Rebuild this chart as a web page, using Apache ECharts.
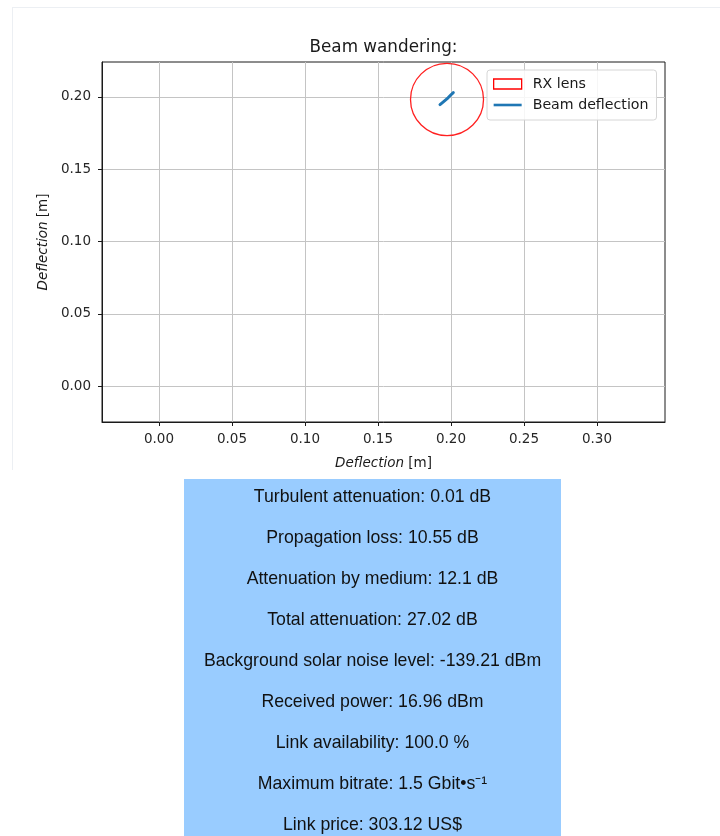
<!DOCTYPE html>
<html>
<head>
<meta charset="utf-8">
<script src="https://cdn.jsdelivr.net/npm/echarts@6/dist/echarts.min.js"></script>
<style>
html,body{margin:0;padding:0;background:#fff;}
#chart{width:720px;height:836px;}
</style>
</head>
<body>
<div id="chart"></div>
<script>
// ---- data ----
const titleText = 'Beam wandering:';
const xTicks = [0.00, 0.05, 0.10, 0.15, 0.20, 0.25, 0.30];
const yTicks = [0.00, 0.05, 0.10, 0.15, 0.20];
const xRange = [-0.039, 0.3466];
const yRange = [-0.0249, 0.2242];
const lensCenterX = [0.1973];
const lensCenterY = [0.1983];
const lensRadius = [0.025];
const beamX = [0.1925, 0.1938, 0.1950, 0.1961, 0.1974, 0.1983, 0.1995, 0.2004, 0.2016];
const beamY = [0.1947, 0.1958, 0.1968, 0.1976, 0.1988, 0.1996, 0.2010, 0.2019, 0.2030];
const infoLines = [
  'Turbulent attenuation: 0.01 dB',
  'Propagation loss: 10.55 dB',
  'Attenuation by medium: 12.1 dB',
  'Total attenuation: 27.02 dB',
  'Background solar noise level: -139.21 dBm',
  'Received power: 16.96 dBm',
  'Link availability: 100.0 %',
  'Maximum bitrate: 1.5 Gbit\u2022s\u207B\u00B9',
  'Link price: 303.12 US$'
];

// ---- layout ----
const plot = {left: 102, top: 62, right: 665, bottom: 422};
const box = {x: 184, y: 479, w: 377, h: 370};
const lineStart = 497, lineStep = 41;

const chart = echarts.init(document.getElementById('chart'), null, {renderer: 'canvas'});
const tickFont = 'DejaVu Sans';

const lensData = lensCenterX.map((x, i) => [x, lensCenterY[i], lensRadius[i]]);
const beamData = beamX.map((x, i) => [x, beamY[i]]);

const graphics = [
  {type: 'line', shape: {x1: 12, y1: 7.5, x2: 720, y2: 7.5}, style: {stroke: '#eceff3', lineWidth: 1}, silent: true},
  {type: 'line', shape: {x1: 12.5, y1: 7, x2: 12.5, y2: 470}, style: {stroke: '#eceff3', lineWidth: 1}, silent: true},
  {type: 'rect', shape: {x: box.x, y: box.y, width: box.w, height: box.h}, style: {fill: '#99ccff'}, silent: true}
];
infoLines.forEach((t, i) => {
  graphics.push({
    type: 'text',
    x: box.x + box.w / 2,
    y: lineStart + i * lineStep,
    style: {text: t, fill: '#111', font: '17.7px "Liberation Sans", Arial, sans-serif', align: 'center', verticalAlign: 'middle'},
    silent: true
  });
});

const option = {
  backgroundColor: '#fff',
  animation: false,
  title: {
    text: titleText,
    left: (plot.left + plot.right) / 2,
    textAlign: 'center',
    top: 39,
    padding: 0,
    textStyle: {fontFamily: tickFont, fontSize: 16.8, fontWeight: 'normal', color: '#1a1a1a'}
  },
  grid: {
    left: plot.left, top: plot.top,
    width: plot.right - plot.left, height: plot.bottom - plot.top,
    show: true, borderColor: '#1a1a1a', borderWidth: 1, backgroundColor: 'transparent'
  },
  legend: {
    orient: 'vertical',
    left: 487, top: 70,
    padding: [7, 8, 8, 6],
    itemWidth: 28, itemHeight: 10, itemGap: 7,
    backgroundColor: 'rgba(255,255,255,0.85)',
    borderColor: '#d6d6d6', borderWidth: 1, borderRadius: 3,
    textStyle: {fontFamily: tickFont, fontSize: 14.2, color: '#1a1a1a', padding: [0, 0, 0, 6]},
    data: [
      {name: 'RX lens', icon: 'rect', itemStyle: {color: 'rgba(0,0,0,0)', borderColor: '#ff0000', borderWidth: 1.3}},
      {name: 'Beam deflection', icon: 'path://M0,0 L28,0 L28,2.6 L0,2.6 Z', symbolKeepAspect: true, itemStyle: {color: '#1f77b4', borderWidth: 0}}
    ]
  },
  xAxis: {
    type: 'value', min: xRange[0], max: xRange[1],
    name: '{i|Deflection} [m]', nameLocation: 'middle', nameGap: 34,
    nameTextStyle: {fontFamily: tickFont, fontSize: 13.5, color: '#1a1a1a', rich: {i: {fontFamily: tickFont, fontStyle: 'italic', fontSize: 13.5, color: '#1a1a1a'}}},
    axisLine: {show: true, onZero: false, lineStyle: {color: '#1a1a1a', width: 1}},
    axisTick: {show: true, length: 4, lineStyle: {color: '#1a1a1a'}, customValues: xTicks},
    axisLabel: {customValues: xTicks, margin: 10, fontFamily: tickFont, fontSize: 13.5, color: '#262626', formatter: v => v.toFixed(2)},
    splitLine: {show: true, lineStyle: {color: '#c4c4c4', width: 1}}
  },
  yAxis: {
    type: 'value', min: yRange[0], max: yRange[1],
    name: '{i|Deflection} [m]', nameLocation: 'middle', nameGap: 50, nameRotate: 90,
    nameTextStyle: {fontFamily: tickFont, fontSize: 13.5, color: '#1a1a1a', rich: {i: {fontFamily: tickFont, fontStyle: 'italic', fontSize: 13.5, color: '#1a1a1a'}}},
    axisLine: {show: true, onZero: false, lineStyle: {color: '#1a1a1a', width: 1}},
    axisTick: {show: true, length: 4, lineStyle: {color: '#1a1a1a'}, customValues: yTicks},
    axisLabel: {customValues: yTicks, margin: 11, fontFamily: tickFont, fontSize: 13.5, color: '#262626', formatter: v => v.toFixed(2)},
    splitLine: {show: true, lineStyle: {color: '#c4c4c4', width: 1}}
  },
  series: [
    {
      name: 'RX lens',
      type: 'custom',
      data: lensData,
      itemStyle: {color: '#ff0000'},
      renderItem: function (params, api) {
        const c = api.coord([api.value(0), api.value(1)]);
        const s = api.size([api.value(2), api.value(2)]);
        return {
          type: 'ellipse',
          shape: {cx: c[0], cy: c[1], rx: s[0], ry: s[1]},
          style: {fill: 'none', stroke: '#ff2020', lineWidth: 1.3}
        };
      },
      z: 3
    },
    {
      name: 'Beam deflection',
      type: 'line',
      data: beamData,
      symbol: 'none',
      showSymbol: false,
      color: '#1f77b4',
      lineStyle: {color: '#1f77b4', width: 3, cap: 'round'},
      z: 4
    }
  ],
  graphic: graphics
};
chart.setOption(option);
</script>
</body>
</html>
